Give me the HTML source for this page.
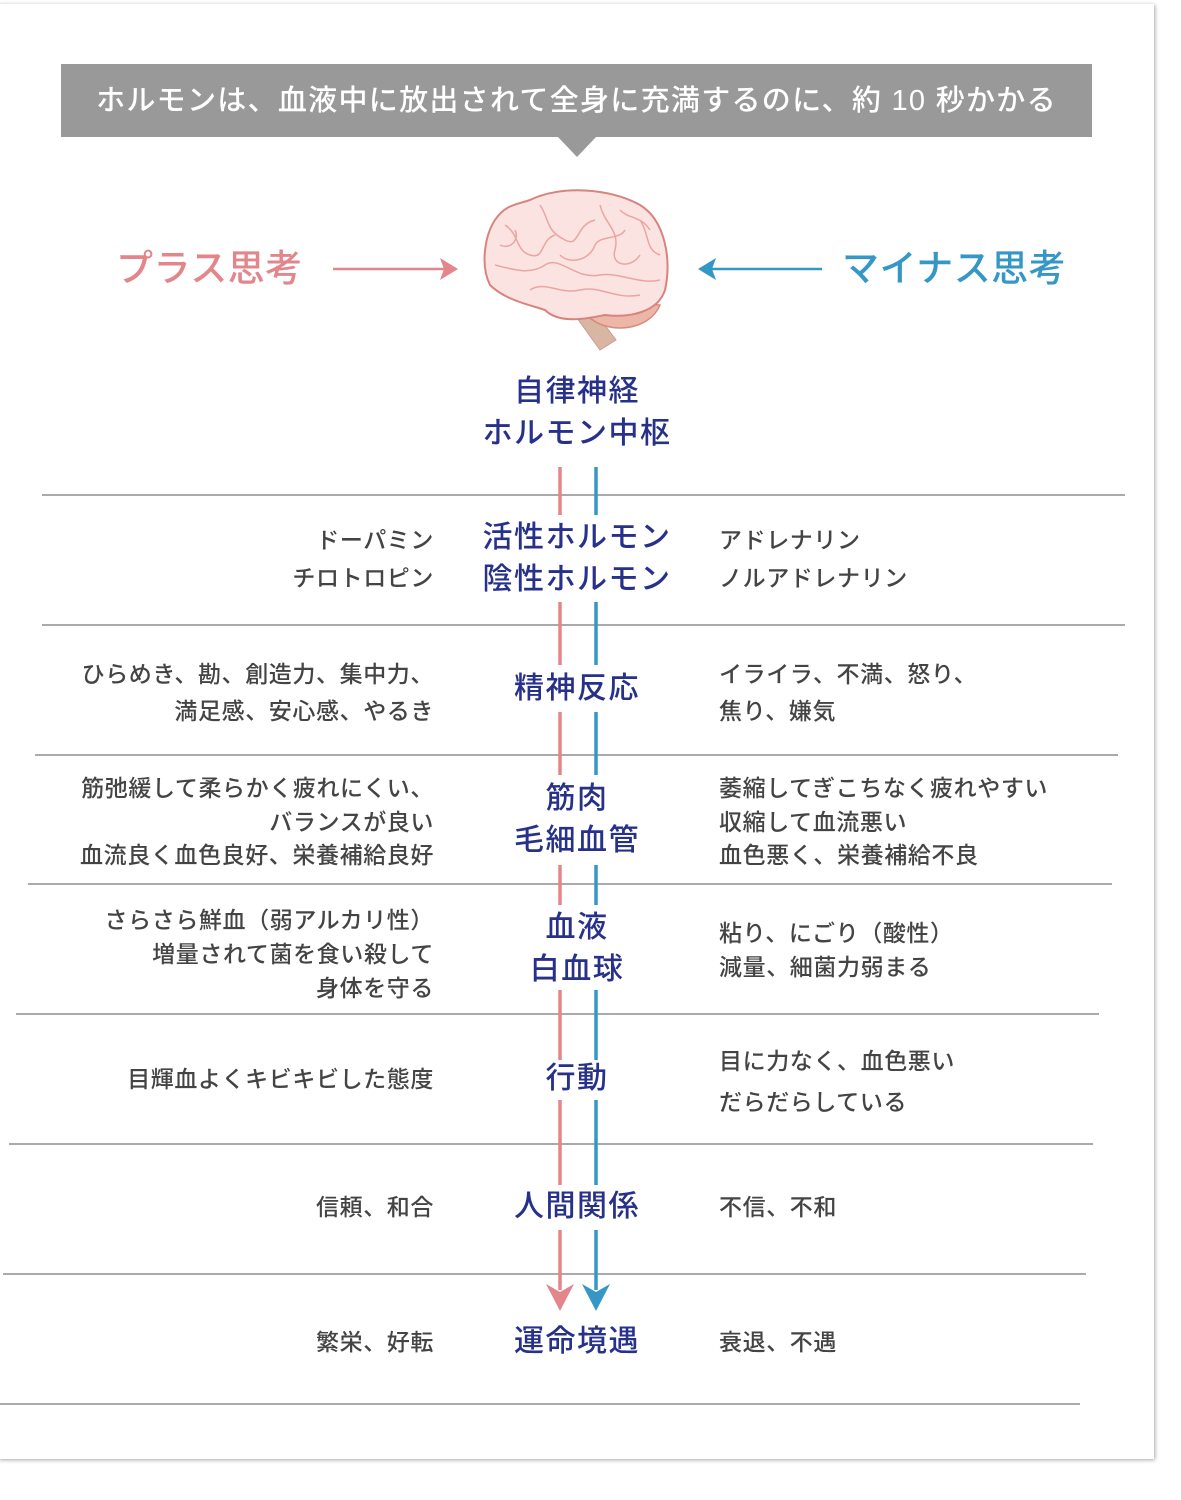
<!DOCTYPE html>
<html><head><meta charset="utf-8"><style>
body{margin:0;width:1181px;height:1500px;background:#fff;position:relative;overflow:hidden;font-family:"Liberation Sans","Noto Sans CJK JP",sans-serif}
.card{position:absolute;left:-2px;top:4px;width:1156px;height:1455px;background:#fff;box-shadow:1px 1px 4px rgba(0,0,0,.35)}
.t{position:absolute;white-space:nowrap;line-height:1}
.l{right:747px;text-align:right;font-size:23px;letter-spacing:0.6px;color:#444;font-weight:500}
.r{left:719px;font-size:23px;letter-spacing:0.6px;color:#444;font-weight:500}
.c{left:377px;width:400px;text-align:center;font-size:30px;letter-spacing:1.5px;color:#27318a;font-weight:500}
</style></head><body>
<div class="card"></div>
<svg width="1181" height="1500" style="position:absolute;left:0;top:0">
<rect x="61" y="64" width="1031" height="73" fill="#999"/>
<polygon points="558,137 596,137 577,157" fill="#999"/>
<g stroke="#777" stroke-width="1.3">
<line x1="42" y1="495" x2="1125" y2="495"/>
<line x1="42" y1="625" x2="1125" y2="625"/>
<line x1="35" y1="755" x2="1118" y2="755"/>
<line x1="28" y1="884" x2="1112" y2="884"/>
<line x1="16" y1="1014" x2="1099" y2="1014"/>
<line x1="9" y1="1144" x2="1093" y2="1144"/>
<line x1="3" y1="1274" x2="1086" y2="1274"/>
<line x1="0" y1="1404" x2="1080" y2="1404"/>
</g>
<g stroke-width="3.5">
<g stroke="#e3868c">
<line x1="560" y1="467" x2="560" y2="515"/><line x1="560" y1="602" x2="560" y2="665"/>
<line x1="560" y1="712" x2="560" y2="775"/><line x1="560" y1="865" x2="560" y2="905"/>
<line x1="560" y1="990" x2="560" y2="1060"/><line x1="560" y1="1100" x2="560" y2="1185"/>
<line x1="560" y1="1230" x2="560" y2="1290"/></g>
<g stroke="#3597c6">
<line x1="596" y1="467" x2="596" y2="515"/><line x1="596" y1="602" x2="596" y2="665"/>
<line x1="596" y1="712" x2="596" y2="775"/><line x1="596" y1="865" x2="596" y2="905"/>
<line x1="596" y1="990" x2="596" y2="1060"/><line x1="596" y1="1100" x2="596" y2="1185"/>
<line x1="596" y1="1230" x2="596" y2="1290"/></g>
</g>
<polygon points="546,1284 560,1292 574,1284 560,1311" fill="#e3868c"/>
<polygon points="582,1284 596,1292 610,1284 596,1311" fill="#3597c6"/>
<line x1="333" y1="269" x2="450" y2="269" stroke="#e3868c" stroke-width="2.5"/>
<polygon points="458,269 440,258 444,269 440,280" fill="#e3868c"/>
<line x1="708" y1="269" x2="822" y2="269" stroke="#3597c6" stroke-width="2.5"/>
<polygon points="698,269 716,258 712,269 716,280" fill="#3597c6"/>
<!-- brain -->
<path d="M577,318 L600,350 L616,340 L598,316 Z" fill="#d8b6a2" stroke="#c99" stroke-width="1"/>
<path d="M590,318 C610,335 650,330 660,305 L600,300 Z" fill="#edb7a8" stroke="#d88a7f" stroke-width="1.5"/>
<path d="M530,200 C560,185 610,188 640,205 C665,220 672,260 665,290 C658,312 630,318 605,315 C590,318 560,325 545,310 C530,305 505,300 490,285 C480,265 485,235 495,220 C505,205 515,205 530,200 Z" fill="#fbe3e1" stroke="#d8837e" stroke-width="2"/>
<g fill="none" stroke="#eaa5a2" stroke-width="1.5">
<path d="M505,225 C520,235 515,250 530,255 C545,260 540,240 555,235"/>
<path d="M540,205 C550,220 545,230 565,240 C580,248 575,225 595,220"/>
<path d="M600,205 C605,225 620,230 615,250 C610,265 630,270 640,255"/>
<path d="M495,265 C515,270 530,275 545,265 C560,255 575,280 600,275 C620,272 640,285 660,280"/>
<path d="M530,290 C545,280 560,295 580,290 C600,285 615,300 640,295"/>
<path d="M560,255 C570,265 590,260 595,245 C600,235 620,240 625,230"/>
<path d="M640,220 C650,235 645,250 660,255"/>
<path d="M500,245 C510,250 520,240 515,230"/>
<path d="M620,210 C630,220 640,215 650,230"/>
</g>
</svg>
<div class="t" style="left:61px;width:1031px;top:87px;text-align:center;color:#fff;font-size:29px;letter-spacing:1.3px;font-weight:500">ホルモンは、血液中に放出されて全身に充満するのに、約 10 秒かかる</div>
<div class="t" style="left:116px;top:250px;font-size:37px;color:#e3868c;letter-spacing:0.5px;font-weight:500">プラス思考</div>
<div class="t" style="left:842px;top:250px;font-size:37px;color:#3597c6;letter-spacing:0.5px;font-weight:500">マイナス思考</div>
<div class="t c" style="top:377px">自律神経</div>
<div class="t c" style="top:419px">ホルモン中枢</div>

<div class="t l" style="top:529px">ドーパミン</div>
<div class="t l" style="top:567px">チロトロピン</div>
<div class="t c" style="top:523px">活性ホルモン</div>
<div class="t c" style="top:565px">陰性ホルモン</div>
<div class="t r" style="top:529px">アドレナリン</div>
<div class="t r" style="top:567px">ノルアドレナリン</div>

<div class="t l" style="top:663px">ひらめき、勘、創造力、集中力、</div>
<div class="t l" style="top:700px">満足感、安心感、やるき</div>
<div class="t c" style="top:674px">精神反応</div>
<div class="t r" style="top:663px">イライラ、不満、怒り、</div>
<div class="t r" style="top:700px">焦り、嫌気</div>

<div class="t l" style="top:777px">筋弛緩して柔らかく疲れにくい、</div>
<div class="t l" style="top:811px">バランスが良い</div>
<div class="t l" style="top:844px">血流良く血色良好、栄養補給良好</div>
<div class="t c" style="top:784px">筋肉</div>
<div class="t c" style="top:826px">毛細血管</div>
<div class="t r" style="top:777px">萎縮してぎこちなく疲れやすい</div>
<div class="t r" style="top:811px">収縮して血流悪い</div>
<div class="t r" style="top:844px">血色悪く、栄養補給不良</div>

<div class="t l" style="top:909px">さらさら鮮血（弱アルカリ性）</div>
<div class="t l" style="top:943px">増量されて菌を食い殺して</div>
<div class="t l" style="top:977px">身体を守る</div>
<div class="t c" style="top:913px">血液</div>
<div class="t c" style="top:955px">白血球</div>
<div class="t r" style="top:922px">粘り、にごり（酸性）</div>
<div class="t r" style="top:956px">減量、細菌力弱まる</div>

<div class="t l" style="top:1068px">目輝血よくキビキビした態度</div>
<div class="t c" style="top:1064px">行動</div>
<div class="t r" style="top:1050px">目に力なく、血色悪い</div>
<div class="t r" style="top:1091px">だらだらしている</div>

<div class="t l" style="top:1196px">信頼、和合</div>
<div class="t c" style="top:1192px">人間関係</div>
<div class="t r" style="top:1196px">不信、不和</div>

<div class="t l" style="top:1331px">繁栄、好転</div>
<div class="t c" style="top:1327px">運命境遇</div>
<div class="t r" style="top:1331px">衰退、不遇</div>
</body></html>
